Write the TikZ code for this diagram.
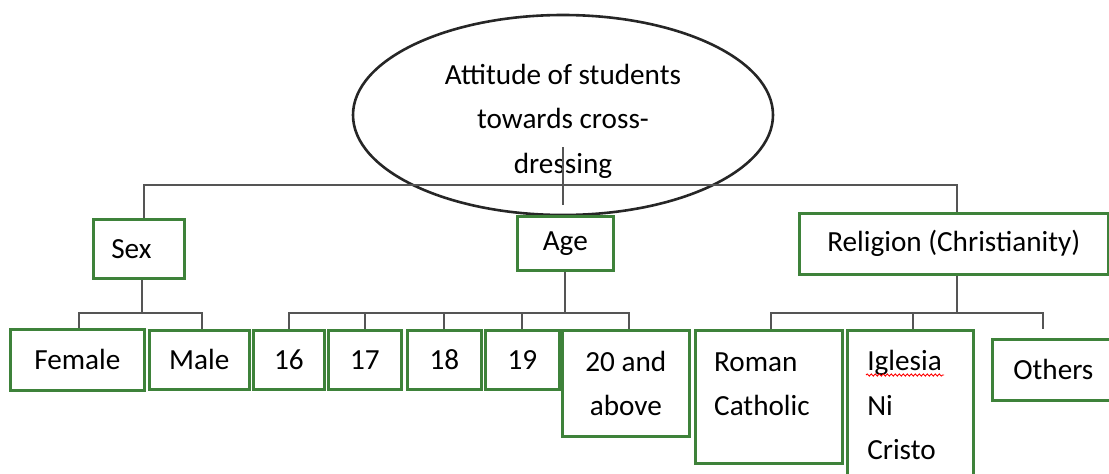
\documentclass[tikz,border=0pt]{standalone}
\usepackage{fontspec}
\setmainfont{Carlito}
\usepackage{xcolor}
\usepackage{tikz}
\usetikzlibrary{shapes.geometric,decorations.pathmorphing}
\definecolor{boxgreen}{RGB}{62,130,58}
\definecolor{linkgray}{RGB}{85,85,85}

\begin{document}
\begin{tikzpicture}[x=1pt, y=-1pt,
    every node/.style={font=\fontsize{29.2}{44.5}\selectfont, text=black},
    box/.style={draw=boxgreen, line width=2.6pt, anchor=north west, inner xsep=0pt, inner ysep=0pt, align=center},
    lbox/.style={box, align=left, inner xsep=20pt},
    link/.style={draw=linkgray, line width=1.8pt},
    spell/.style={red, line width=0.9pt, decorate, decoration={snake, amplitude=1.1pt, segment length=4pt}}]
    \useasboundingbox (0,0) rectangle (1109,474);
    \clip (0,0) rectangle (1109,474);

    \node[ellipse, draw=black!85, line width=2.6pt, minimum width=420pt, minimum height=200pt, inner sep=0pt] (root) at (563,115) {};
    \node[align=center, inner sep=0pt] (roottext) at (563,121) {Attitude of students\\towards cross-\\dressing};

    \node[lbox, text width=55pt, inner xsep=18pt, minimum height=59pt] (sex) at (92,218) {Sex};
    \node[box, minimum width=96pt, minimum height=54pt] (age) at (516,215) {Age};
    \node[box, minimum width=309pt, minimum height=61pt] (rel) at (798,212) {Religion (Christianity)};

    \node[box, minimum width=134pt, minimum height=61pt] (fem) at (9,328) {Female};
    \node[box, minimum width=100pt, minimum height=59pt] (male) at (148,329) {Male};
    \node[box, minimum width=71pt, minimum height=59pt] (n16) at (252,329) {16};
    \node[box, minimum width=73pt, minimum height=59pt] (n17) at (327,329) {17};
    \node[box, minimum width=74pt, minimum height=59pt] (n18) at (406,329) {18};
    \node[box, minimum width=74pt, minimum height=59pt] (n19) at (484,329) {19};
    \node[box, minimum width=127pt, minimum height=106pt] (n20) at (561,329) {20 and\\above};
    \node[box, minimum width=147pt, minimum height=133pt] (rc) at (694,329) {};
    \node[anchor=west, align=left, inner sep=0pt] (rctext) at (714,384) {Roman\\Catholic};
    \node[lbox, text width=86pt, minimum height=150pt] (inc) at (846,329) {Iglesia\\Ni\\Cristo};
    \node[lbox, text width=93pt, inner xsep=21pt, minimum height=61pt] (oth) at (991,338) {Others};
    \draw[spell] (866,375) -- (944,375);

    % first split
    \coordinate (top) at (563,185);
    \coordinate (stem) at (563,147);
    \draw[link] ([xshift=5pt]sex.north) |- (top) -| ([xshift=3pt]rel.north);
    \draw[link] (stem) -- ++(0,58);

    % sex
    \coordinate (sb) at (142,313);
    \draw[link] (sex.south -| sb) -- (sb);
    \draw[link] ([xshift=2pt]fem.north) |- (sb) -| ([xshift=3pt]male.north);

    % age
    \coordinate (ab) at (565,313);
    \draw[link] (age.south) -- (age.south |- ab);
    \draw[link] (n16.north) |- (ab) -| ([xshift=3pt]n20.north);
    \foreach \n in {n17,n18,n19}
        \draw[link] (\n.north) -- (\n.north |- ab);

    % religion
    \coordinate (rb) at (956,313);
    \coordinate (ot) at (1043,329);
    \draw[link] ([xshift=3pt]rel.south) -- ([xshift=3pt]rel.south |- rb);
    \draw[link] ([xshift=2pt]rc.north) |- (rb) -| (ot);
    \draw[link] ([xshift=3pt]inc.north) -- ([xshift=3pt]inc.north |- rb);
\end{tikzpicture}
\end{document}
